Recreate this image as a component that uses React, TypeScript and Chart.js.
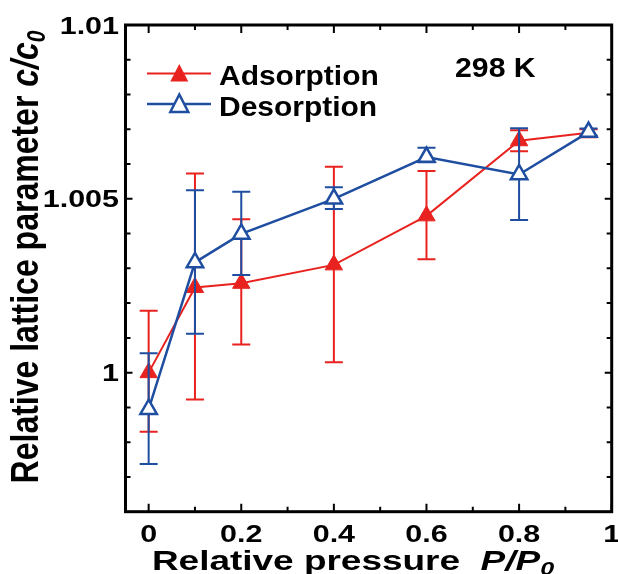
import React, { useEffect, useRef } from "react";
import { Chart, registerables } from "chart.js";

Chart.register(...registerables);

// ---- data ----
const pressure = [0, 0.1, 0.2, 0.4, 0.6, 0.8, 0.95];
const adsorption = [1.0, 1.00245, 1.00257, 1.0031, 1.00451, 1.00667, 1.0069];
const adsorptionLow = [0.9983, 0.99923, 1.00081, 1.0003, 1.00326, 1.00637, 1.0068];
const adsorptionHigh = [1.00178, 1.00573, 1.00441, 1.00592, 1.0058, 1.00697, 1.007];
const desorption = [0.99895, 1.00317, 1.00399, 1.005, 1.0062, 1.0057, 1.00692];
const desorptionLow = [0.99737, 1.00112, 1.00281, 1.00471, 1.00605, 1.00439, 1.00682];
const desorptionHigh = [1.00056, 1.00525, 1.0052, 1.00533, 1.00647, 1.00703, 1.00702];

const xMajorTicks = [0, 0.2, 0.4, 0.6, 0.8, 1];
const xTickLabels = ["0", "0.2", "0.4", "0.6", "0.8", "1"];
const xMinorTicks = [0.1, 0.3, 0.5, 0.7, 0.9];
const yMajorTicks = [1, 1.005, 1.01];
const yTickLabels = ["1", "1.005", "1.01"];
const yMinorTicks = [0.997, 0.998, 0.999, 1.001, 1.002, 1.003, 1.004, 1.006, 1.007, 1.008, 1.009];

const seriesNames = ["Adsorption", "Desorption"];
const annotationText = "298 K";

const RED = "#e8231f";
const BLUE = "#1f4ea1";
const FONT = '"Liberation Sans", Arial, Helvetica, sans-serif';

type Run = { text: string; font: string; dy?: number };

function drawRuns(
  ctx: CanvasRenderingContext2D,
  runs: Run[],
  x: number,
  y: number,
  sx: number,
  align: "left" | "center" | "right",
  rotate = false
) {
  ctx.save();
  ctx.translate(x, y);
  ctx.scale(sx, 1);
  if (rotate) ctx.rotate(-Math.PI / 2);
  let total = 0;
  for (const r of runs) {
    ctx.font = r.font;
    total += ctx.measureText(r.text).width;
  }
  let cx = align === "left" ? 0 : align === "center" ? -total / 2 : -total;
  ctx.textBaseline = "alphabetic";
  ctx.textAlign = "left";
  ctx.fillStyle = "#000";
  for (const r of runs) {
    ctx.font = r.font;
    ctx.fillText(r.text, cx, r.dy || 0);
    cx += ctx.measureText(r.text).width;
  }
  ctx.restore();
}

const errorBars = {
  id: "errorBars",
  beforeDatasetDraw(chart: any, args: any) {
    const ctx = chart.ctx as CanvasRenderingContext2D;
    const ds = chart.data.datasets[args.index] as any;
    const xs = chart.scales.x;
    const ys = chart.scales.y;
    ctx.save();
    ctx.strokeStyle = ds.borderColor;
    ctx.lineWidth = 2;
    const cap = 9;
    ds.data.forEach((p: any, i: number) => {
      const px = xs.getPixelForValue(p.x);
      const lo = ys.getPixelForValue(ds.errLow[i]);
      const hi = ys.getPixelForValue(ds.errHigh[i]);
      ctx.beginPath();
      ctx.moveTo(px, lo);
      ctx.lineTo(px, hi);
      ctx.moveTo(px - cap, lo);
      ctx.lineTo(px + cap, lo);
      ctx.moveTo(px - cap, hi);
      ctx.lineTo(px + cap, hi);
      ctx.stroke();
    });
    ctx.restore();
  },
};

const frameAndText = {
  id: "frameAndText",
  afterDraw(chart: any) {
    const ctx = chart.ctx as CanvasRenderingContext2D;
    const { left, right, top, bottom } = chart.chartArea;
    const xs = chart.scales.x;
    const ys = chart.scales.y;
    ctx.save();
    ctx.strokeStyle = "#000";
    ctx.lineWidth = 3;
    ctx.strokeRect(left, top, right - left, bottom - top);
    ctx.lineWidth = 2;
    ctx.beginPath();
    const xt = (v: number, len: number) => {
      const px = xs.getPixelForValue(v);
      ctx.moveTo(px, bottom);
      ctx.lineTo(px, bottom - len);
      ctx.moveTo(px, top);
      ctx.lineTo(px, top + len);
    };
    const yt = (v: number, len: number) => {
      const py = ys.getPixelForValue(v);
      ctx.moveTo(left, py);
      ctx.lineTo(left + len, py);
      ctx.moveTo(right, py);
      ctx.lineTo(right - len, py);
    };
    xMajorTicks.forEach((v) => xt(v, 8));
    xMinorTicks.forEach((v) => xt(v, 5));
    yMajorTicks.forEach((v) => yt(v, 7));
    yMinorTicks.forEach((v) => yt(v, 5));
    ctx.stroke();

    // tick labels
    const tickFont = `bold 24px ${FONT}`;
    xMajorTicks.forEach((v, i) => {
      drawRuns(ctx, [{ text: xTickLabels[i], font: tickFont }], xs.getPixelForValue(v), 542, 1.27, "center");
    });
    yMajorTicks.forEach((v, i) => {
      drawRuns(ctx, [{ text: yTickLabels[i], font: tickFont }], 119, ys.getPixelForValue(v) + 8.6, 1.27, "right");
    });

    // axis titles
    drawRuns(
      ctx,
      [
        { text: "Relative pressure  ", font: `bold 28px ${FONT}` },
        { text: "P/P", font: `italic bold 28px ${FONT}` },
        { text: "0", font: `italic bold 19px ${FONT}`, dy: 5 },
      ],
      353,
      570,
      1.32,
      "center"
    );
    drawRuns(
      ctx,
      [
        { text: "Relative lattice parameter ", font: `bold 32px ${FONT}` },
        { text: "c/c", font: `italic bold 32px ${FONT}` },
        { text: "0", font: `italic bold 21px ${FONT}`, dy: 6 },
      ],
      38,
      257,
      1.2,
      "center",
      true
    );

    // legend
    const legendRows = [
      { y: 73.5, color: RED, filled: true, textY: 85 },
      { y: 104, color: BLUE, filled: false, textY: 116 },
    ];
    legendRows.forEach((row, i) => {
      ctx.strokeStyle = row.color;
      ctx.lineWidth = i === 0 ? 2 : 2.5;
      ctx.beginPath();
      ctx.moveTo(147, row.y);
      ctx.lineTo(211, row.y);
      ctx.stroke();
      const cx = 179.3;
      const tTop = row.y - 9.5;
      const tBot = row.y + 8;
      ctx.beginPath();
      ctx.moveTo(cx, tTop);
      ctx.lineTo(cx - 9, tBot);
      ctx.lineTo(cx + 9, tBot);
      ctx.closePath();
      if (row.filled) {
        ctx.fillStyle = row.color;
        ctx.fill();
      } else {
        ctx.fillStyle = "#fff";
        ctx.fill();
        ctx.lineWidth = 2.5;
        ctx.stroke();
      }
      drawRuns(ctx, [{ text: seriesNames[i], font: `bold 28px ${FONT}` }], 219, row.textY, 1.07, "left");
    });

    drawRuns(ctx, [{ text: annotationText, font: `bold 28px ${FONT}` }], 455, 77, 1.08, "left");
    ctx.restore();
  },
};

export default function App() {
  const ref = useRef<HTMLCanvasElement | null>(null);
  useEffect(() => {
    if (!ref.current) return;
    const chart = new Chart(ref.current, {
      type: "line",
      data: {
        datasets: [
          {
            label: seriesNames[0],
            data: pressure.map((x, i) => ({ x, y: adsorption[i] })),
            errLow: adsorptionLow,
            errHigh: adsorptionHigh,
            borderColor: RED,
            backgroundColor: RED,
            borderWidth: 2,
            pointStyle: "triangle",
            pointRadius: 10,
            pointBorderWidth: 1,
            pointBackgroundColor: RED,
            pointBorderColor: RED,
            tension: 0,
            order: 1,
          } as any,
          {
            label: seriesNames[1],
            data: pressure.map((x, i) => ({ x, y: desorption[i] })),
            errLow: desorptionLow,
            errHigh: desorptionHigh,
            borderColor: BLUE,
            backgroundColor: "#fff",
            borderWidth: 2.5,
            pointStyle: "triangle",
            pointRadius: 9.5,
            pointBorderWidth: 2.5,
            pointBackgroundColor: "#fff",
            pointBorderColor: BLUE,
            tension: 0,
            order: 0,
          } as any,
        ],
      },
      options: {
        animation: false,
        responsive: false,
        maintainAspectRatio: false,
        layout: { autoPadding: false, padding: { left: 125.5, top: 25, right: 6.3, bottom: 62.3 } },
        plugins: { legend: { display: false }, tooltip: { enabled: false } },
        scales: {
          x: { type: "linear", min: -0.05, max: 1, display: false },
          y: { type: "linear", min: 0.996, max: 1.01, display: false },
        },
      },
      plugins: [errorBars, frameAndText],
    });
    return () => chart.destroy();
  }, []);
  return (
    <canvas
      ref={ref}
      width={618}
      height={574}
      style={{ position: "absolute", left: 0, top: 0, width: 618, height: 574 }}
    />
  );
}
